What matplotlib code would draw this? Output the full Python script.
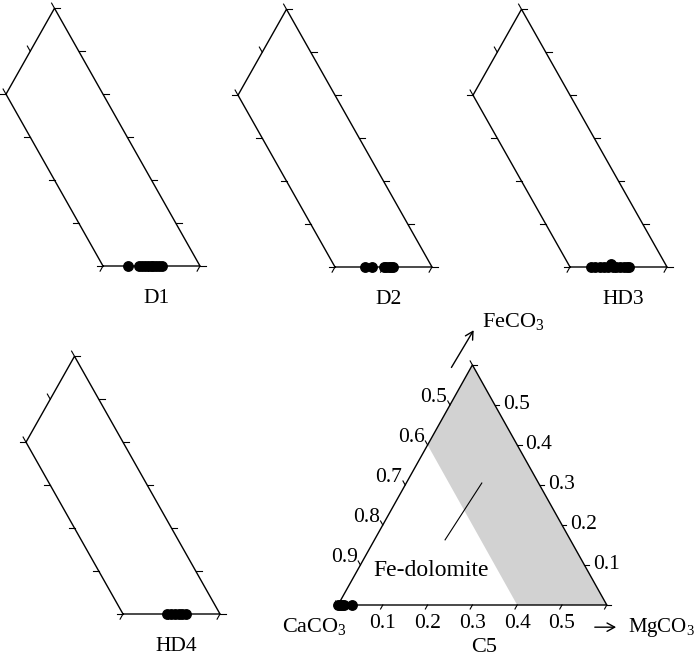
# Ternary CaCO3-MgCO3-FeCO3 plots: four zoomed Fe-dolomite windows (D1, D2, HD3, HD4)
# plus the full calcite-corner sketch (C5) with the Fe-dolomite field shaded.
import numpy as np
import matplotlib
matplotlib.use("Agg")
import matplotlib.pyplot as plt

plt.rcParams["font.family"] = ["Liberation Serif", "DejaVu Serif"]
plt.rcParams["mathtext.fontset"] = "custom"
plt.rcParams["mathtext.rm"] = "Liberation Serif"

# ---- data (mole fractions MgCO3 / FeCO3) ----
d1_mg = [0.452, 0.474, 0.480, 0.486, 0.492, 0.498, 0.504, 0.510, 0.516, 0.522]
d1_fe = [0.0, 0.0, 0.0, 0.0, 0.0, 0.0, 0.0, 0.0, 0.0, 0.0]
d2_mg = [0.462, 0.476, 0.501, 0.506, 0.511, 0.516, 0.520]
d2_fe = [0.0, 0.0, 0.0, 0.0, 0.0, 0.0, 0.0]
hd3_mg = [0.443, 0.452, 0.461, 0.470, 0.478, 0.482, 0.488, 0.495, 0.503, 0.511, 0.517, 0.522]
hd3_fe = [0.0, 0.0, 0.0, 0.0, 0.0, 0.007, 0.0, 0.0, 0.0, 0.0, 0.0, 0.0]
hd4_mg = [0.491, 0.499, 0.507, 0.515, 0.522, 0.530]
hd4_fe = [0.0, 0.0, 0.0, 0.0, 0.0, 0.0]
c5_mg = [0.0, 0.005, 0.010, 0.014, 0.031]
c5_fe = [0.0, 0.0, 0.0, 0.0, 0.0]

W, H = 700, 662
S3 = np.sqrt(3) / 2
fig = plt.figure(figsize=(W / 100, H / 100), dpi=100)
fig.patch.set_facecolor("white")

def tern(mg, fe):
    mg = np.asarray(mg, float); fe = np.asarray(fe, float)
    return mg + fe / 2, fe * S3

def panel_ax(px, py, x0, sx, sy, xlim, ylim):
    # data point (x0, 0) lands on pixel (px, py)
    left = px + (xlim[0] - x0) * sx
    bot = py - ylim[0] * sy
    ax = fig.add_axes([left / W, 1 - bot / H, (xlim[1] - xlim[0]) * sx / W,
                       (ylim[1] - ylim[0]) * sy / H])
    ax.set_xlim(xlim); ax.set_ylim(ylim); ax.axis("off")
    return ax

def outline(ax, mg, fe):
    x, y = tern(mg, fe)
    ax.plot(x, y, color="k", lw=1.0, zorder=3, solid_joinstyle="miter")

DL, UL, RT, LF = (-0.5, -S3), (-0.5, S3), (1.0, 0.0), (-1.0, 0.0)

def ticks(ax, mg, fe, d, L=0.012):
    x, y = tern(mg, fe)
    for xi, yi in zip(x, y):
        ax.plot([xi, xi + d[0] * L], [yi, yi + d[1] * L], color="k", lw=0.8, zorder=3)

def window(px, py, name, mg, fe):
    ax = panel_ax(px, py, 0.4, 485, 496, (0.17, 0.63), (-0.09, 0.535))
    outline(ax, [0.4, 0.6, 0.0, 0.0, 0.4], [0.0, 0.0, 0.6, 0.4, 0.0])
    f = np.arange(0, 0.41, 0.1)
    ticks(ax, [0.4, 0.5, 0.6], [0, 0, 0], DL)
    ticks(ax, 0.4 - f, f, LF)
    ticks(ax, [0, 0, 0], [0.4, 0.5, 0.6], UL)
    f = np.arange(0, 0.61, 0.1)
    ticks(ax, 0.6 - f, f, RT)
    x, y = tern(mg, fe)
    ax.plot(x, y, "o", color="k", ms=6.8, zorder=5, clip_on=False)
    ax.text(0.51, -0.066, name, ha="center", va="center", fontsize=15.5)

window(103, 266, "D1", d1_mg, d1_fe)
window(335, 267, "D2", d2_mg, d2_fe)
window(570, 267, "HD3", hd3_mg, hd3_fe)
window(123, 614, "HD4", hd4_mg, hd4_fe)

# ---- C5: calcite corner of the triangle ----
ax = panel_ax(338, 605, 0.0, 448, 462, (-0.16, 0.82), (-0.12, 0.655))
gx, gy = tern([0.4, 0.6, 0.0, 0.0], [0.0, 0.0, 0.6, 0.4])
ax.fill(gx, gy, color="#d2d2d2", lw=0, zorder=1)
outline(ax, [0.0, 0.6, 0.0, 0.0], [0.0, 0.0, 0.6, 0.0])
v = np.arange(0, 0.61, 0.1)
ticks(ax, v, np.zeros_like(v), DL, 0.01)
ticks(ax, np.zeros_like(v), v, UL, 0.01)
ticks(ax, 0.6 - v, v, RT, 0.01)
for k in range(1, 6):
    m = k / 10
    x, y = tern(m, 0)
    ax.text(x, -0.04, f"0.{k}", ha="center", va="center", fontsize=15.5)
    x, y = tern(0.6 - m, m)
    ax.annotate(f"0.{k}", (x, y), xytext=(6, 0), textcoords="offset points",
                ha="left", va="center", fontsize=15.5)
for k in range(5, 10):
    x, y = tern(0, 1 - k / 10)
    ax.annotate(f"0.{k}", (x, y), xytext=(-2, 2), textcoords="offset points",
                ha="right", va="baseline", fontsize=15.5)
x, y = tern(c5_mg, c5_fe)
ax.plot(x, y, "o", color="k", ms=6.8, zorder=5, clip_on=False)

ax.text(0.02, -0.048, r"CaCO$_\mathregular{3}$", ha="right", va="center", fontsize=16)
ax.text(0.326, -0.091, "C5", ha="center", va="center", fontsize=16)
ax.text(0.208, 0.074, "Fe-dolomite", ha="center", va="center", fontsize=17, zorder=4)
ax.plot([0.239, 0.321], [0.141, 0.264], color="k", lw=0.8, zorder=4)
head = dict(arrowstyle="->,head_length=0.55,head_width=0.3", color="k", lw=1.0)
ax.annotate("", xy=(0.306, 0.600), xytext=(0.250, 0.509), arrowprops=head,
            annotation_clip=False)
ax.text(0.321, 0.613, r"FeCO$_\mathregular{3}$", ha="left", va="center", fontsize=16)
ax.annotate("", xy=(0.627, -0.048), xytext=(0.567, -0.048), arrowprops=head,
            annotation_clip=False)
ax.text(0.648, -0.048, r"MgCO$_\mathregular{3}$", ha="left", va="center", fontsize=15)

fig.savefig("out.png", dpi=100, facecolor="white")
